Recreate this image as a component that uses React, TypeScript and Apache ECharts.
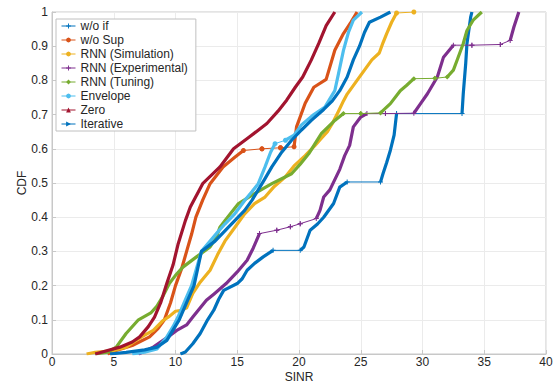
import React, { useEffect, useRef } from "react";
import * as echarts from "echarts";

const seriesNames = [
  "w/o if",
  "w/o Sup",
  "RNN (Simulation)",
  "RNN (Experimental)",
  "RNN (Tuning)",
  "Envelope",
  "Zero",
  "Iterative",
];

const colors = ["#0072BD", "#D95319", "#EDB120", "#7E2F8E", "#77AC30", "#4DBEEE", "#A2142F", "#0072BD"];

const symbols = [
  "path://M4,0H6V4H10V6H6V10H4V6H0V4H4Z",
  "circle",
  "circle",
  "path://M4,0H6V4H10V6H6V10H4V6H0V4H4Z",
  "diamond",
  "circle",
  "triangle",
  "path://M0,0L10,5L0,10Z",
];

const woIf: number[][] = [[10.4,0],[10.8,0.006],[11.4,0.03],[12.0,0.06],[12.6,0.1],[13.1,0.128],[13.5,0.16],[13.9,0.186],[15.0,0.206],[15.4,0.22],[15.8,0.245],[16.4,0.265],[17.1,0.284],[17.9,0.303],[20.1,0.303],[20.4,0.313],[20.9,0.362],[21.5,0.38],[22.0,0.40],[22.8,0.44],[23.3,0.488],[23.9,0.503],[26.6,0.503],[26.8,0.527],[27.1,0.56],[27.4,0.596],[27.7,0.64],[27.9,0.703],[33.2,0.703],[33.3,0.761],[33.5,0.85],[33.6,0.908],[33.9,0.985],[34.0,1]];

const woSup: number[][] = [[4.5,0],[5.2,0.01],[6.5,0.025],[7.9,0.05],[8.6,0.075],[9.1,0.1],[9.6,0.15],[10.0,0.2],[10.5,0.25],[10.9,0.3],[11.3,0.35],[11.65,0.4],[12.2,0.45],[12.8,0.498],[13.85,0.547],[14.8,0.575],[15.5,0.595],[17.0,0.6],[18.5,0.603],[19.6,0.606],[19.8,0.664],[20.5,0.733],[21.2,0.78],[22.2,0.803],[22.9,0.888],[23.6,0.937],[24.2,0.97],[24.7,1]];

const rnnSim: number[][] = [[2.8,0],[3.5,0.005],[5.0,0.01],[6.0,0.02],[6.8,0.04],[7.5,0.055],[8.2,0.069],[9.0,0.098],[9.5,0.11],[10.0,0.125],[10.5,0.128],[10.9,0.135],[11.4,0.177],[12.0,0.21],[12.8,0.245],[13.4,0.29],[14.0,0.33],[14.8,0.37],[15.6,0.41],[16.4,0.44],[17.25,0.459],[18.0,0.49],[18.9,0.518],[19.6,0.55],[20.5,0.58],[21.3,0.61],[21.8,0.63],[22.3,0.65],[22.7,0.674],[23.2,0.71],[23.6,0.74],[23.9,0.76],[24.7,0.8],[25.3,0.83],[25.9,0.86],[26.5,0.88],[26.8,0.91],[27.1,0.937],[27.5,0.97],[27.9,0.997],[29.3,1]];

const rnnExp: number[][] = [[7.0,0],[8.2,0.02],[9.2,0.045],[10.1,0.069],[10.9,0.085],[11.4,0.108],[12.5,0.157],[13.1,0.175],[14.1,0.206],[15.0,0.24],[15.8,0.274],[16.3,0.31],[16.8,0.352],[18.2,0.362],[19.3,0.372],[20.1,0.381],[21.4,0.396],[21.7,0.42],[22.0,0.459],[22.5,0.48],[23.3,0.54],[23.7,0.58],[24.1,0.61],[24.4,0.664],[25.0,0.693],[25.5,0.703],[27.0,0.703],[29.3,0.704],[29.8,0.73],[30.4,0.761],[31.2,0.81],[31.7,0.868],[32.5,0.903],[34.0,0.903],[36.3,0.905],[37.1,0.917],[37.4,0.956],[37.8,1]];

const rnnTuning: number[][] = [[3.5,0],[4.5,0.005],[5.2,0.02],[6.0,0.06],[7.0,0.1],[8.0,0.12],[8.5,0.14],[9.0,0.17],[9.5,0.206],[10.0,0.23],[10.6,0.254],[11.7,0.284],[12.8,0.313],[13.3,0.34],[13.6,0.371],[14.0,0.39],[15.1,0.44],[16.4,0.469],[17.8,0.498],[19.4,0.527],[20.1,0.555],[20.8,0.586],[21.3,0.615],[21.8,0.644],[22.9,0.683],[23.6,0.703],[25.0,0.703],[26.6,0.705],[27.4,0.732],[28.2,0.77],[28.7,0.785],[29.3,0.805],[31.0,0.806],[32.0,0.81],[32.5,0.83],[32.8,0.859],[33.3,0.908],[33.6,0.946],[34.1,0.976],[34.8,1]];

const envelope: number[][] = [[6.5,0],[7.5,0.005],[8.5,0.015],[9.3,0.05],[9.8,0.08],[10.2,0.108],[10.7,0.15],[11.3,0.2],[11.7,0.25],[12.1,0.3],[12.8,0.33],[13.5,0.36],[14.0,0.38],[14.8,0.41],[15.6,0.449],[16.2,0.475],[16.7,0.498],[17.25,0.547],[17.7,0.59],[18.06,0.615],[18.9,0.625],[19.6,0.64],[20.2,0.67],[21.2,0.7],[22.1,0.722],[22.9,0.77],[23.2,0.82],[23.6,0.888],[24.0,0.94],[24.4,0.976],[25.1,1]];

const zero: number[][] = [[3.5,0],[4.5,0.01],[5.5,0.02],[6.5,0.035],[7.1,0.05],[7.8,0.08],[8.3,0.108],[8.8,0.15],[9.3,0.207],[9.8,0.26],[10.2,0.32],[10.8,0.39],[11.2,0.43],[12.2,0.498],[13.6,0.547],[14.7,0.6],[16.0,0.635],[17.4,0.674],[18.3,0.71],[19.0,0.742],[19.7,0.78],[20.3,0.81],[21.0,0.86],[21.6,0.908],[22.2,0.96],[22.9,1]];

const iterative: number[][] = [[4.7,0],[6.0,0.005],[7.5,0.012],[8.5,0.02],[9.3,0.04],[9.8,0.07],[10.3,0.1],[10.9,0.15],[11.5,0.2],[11.8,0.25],[12.1,0.3],[13.2,0.33],[14.0,0.36],[14.8,0.39],[15.6,0.42],[16.2,0.45],[16.7,0.48],[17.2,0.51],[17.8,0.547],[18.6,0.59],[19.4,0.625],[20.2,0.655],[21.0,0.683],[22.0,0.715],[22.7,0.74],[23.3,0.77],[23.9,0.81],[24.4,0.86],[24.9,0.9],[25.3,0.94],[25.7,0.97],[26.6,0.985],[27.4,1]];

const curves = [woIf, woSup, rnnSim, rnnExp, rnnTuning, envelope, zero, iterative];

const xTicks = [0, 5, 10, 15, 20, 25, 30, 35, 40];
const yTickLabels = ["0", "0.1", "0.2", "0.3", "0.4", "0.5", "0.6", "0.7", "0.8", "0.9", "1"];

function isThin(a: number[], b: number[]) {
  const dx = b[0] - a[0];
  return dx >= 0.7 && (b[1] - a[1]) / dx < 0.015 && a[1] > 0.03;
}

function split(pts: number[][]) {
  const thick: any[] = [];
  const thin: any[] = [];
  for (let i = 0; i < pts.length; i++) {
    thick.push(pts[i]);
    if (i < pts.length - 1 && isThin(pts[i], pts[i + 1])) {
      thick.push([(pts[i][0] + pts[i + 1][0]) / 2, null]);
      thin.push(pts[i], pts[i + 1], [(pts[i][0] + pts[i + 1][0]) / 2, null]);
    }
  }
  return { thick, thin };
}

const FONT = "'Liberation Sans', Arial, Helvetica, sans-serif";

export default function App() {
  const ref = useRef<HTMLDivElement>(null);
  useEffect(() => {
    if (!ref.current) return;
    const chart = echarts.init(ref.current, null, { renderer: "svg" });
    const series: any[] = [];
    curves.forEach((pts, i) => {
      const { thick, thin } = split(pts);
      series.push({
        name: seriesNames[i],
        type: "line",
        data: thin.length ? thin : [[null, null]],
        showSymbol: true,
        symbol: symbols[i],
        symbolSize: 5,
        connectNulls: false,
        lineStyle: { width: 1, color: colors[i] },
        itemStyle: { color: colors[i] },
        z: 2 + i,
      });
      series.push({
        name: seriesNames[i],
        type: "line",
        data: thick,
        showSymbol: false,
        connectNulls: false,
        lineStyle: { width: 3.2, color: colors[i], join: "round" },
        itemStyle: { color: colors[i] },
        z: 2 + i,
      });
    });
    chart.setOption({
      animation: false,
      backgroundColor: "#ffffff",
      textStyle: { fontFamily: FONT },
      grid: {
        left: 52,
        right: 11,
        top: 12,
        bottom: 31,
        show: true,
        borderColor: "#c8c8c8",
        borderWidth: 1,
        containLabel: false,
        outerBoundsMode: "none",
      },
      legend: {
        orient: "vertical",
        left: 56,
        top: 19,
        data: seriesNames,
        backgroundColor: "#ffffff",
        borderColor: "#c0c0c0",
        borderWidth: 1,
        padding: [0, 8, 0, 5],
        itemWidth: 14,
        itemHeight: 6,
        itemGap: 0,
        lineStyle: { width: 1 },
        textStyle: { fontSize: 12, color: "#262626", lineHeight: 14, fontFamily: FONT },
      },
      xAxis: {
        type: "value",
        min: xTicks[0],
        max: xTicks[xTicks.length - 1],
        interval: 5,
        name: "SINR",
        nameLocation: "middle",
        nameGap: 17,
        nameMoveOverlap: false,
        nameTextStyle: { fontSize: 12, color: "#262626" },
        axisLine: { show: true, lineStyle: { color: "#c8c8c8" } },
        axisTick: { show: true, inside: true, length: 4, lineStyle: { color: "#c8c8c8" } },
        axisLabel: { fontSize: 12, color: "#262626", margin: 2 },
        splitLine: { show: true, lineStyle: { color: "#ebebeb" } },
      },
      yAxis: {
        type: "value",
        min: 0,
        max: 1,
        interval: 0.1,
        name: "CDF",
        nameLocation: "middle",
        nameGap: 24,
        nameMoveOverlap: false,
        nameRotate: 90,
        nameTextStyle: { fontSize: 12, color: "#262626" },
        axisLine: { show: true, lineStyle: { color: "#c8c8c8" } },
        axisTick: { show: true, inside: true, length: 4, lineStyle: { color: "#c8c8c8" } },
        axisLabel: {
          fontSize: 12,
          color: "#262626",
          margin: 4,
          formatter: (v: number) => yTickLabels[Math.round(v * 10)] ?? "",
        },
        splitLine: { show: true, lineStyle: { color: "#ebebeb" } },
      },
      series,
    });
    return () => chart.dispose();
  }, []);
  return <div ref={ref} style={{ width: 557, height: 385, position: "absolute", left: 0, top: 0 }} />;
}
